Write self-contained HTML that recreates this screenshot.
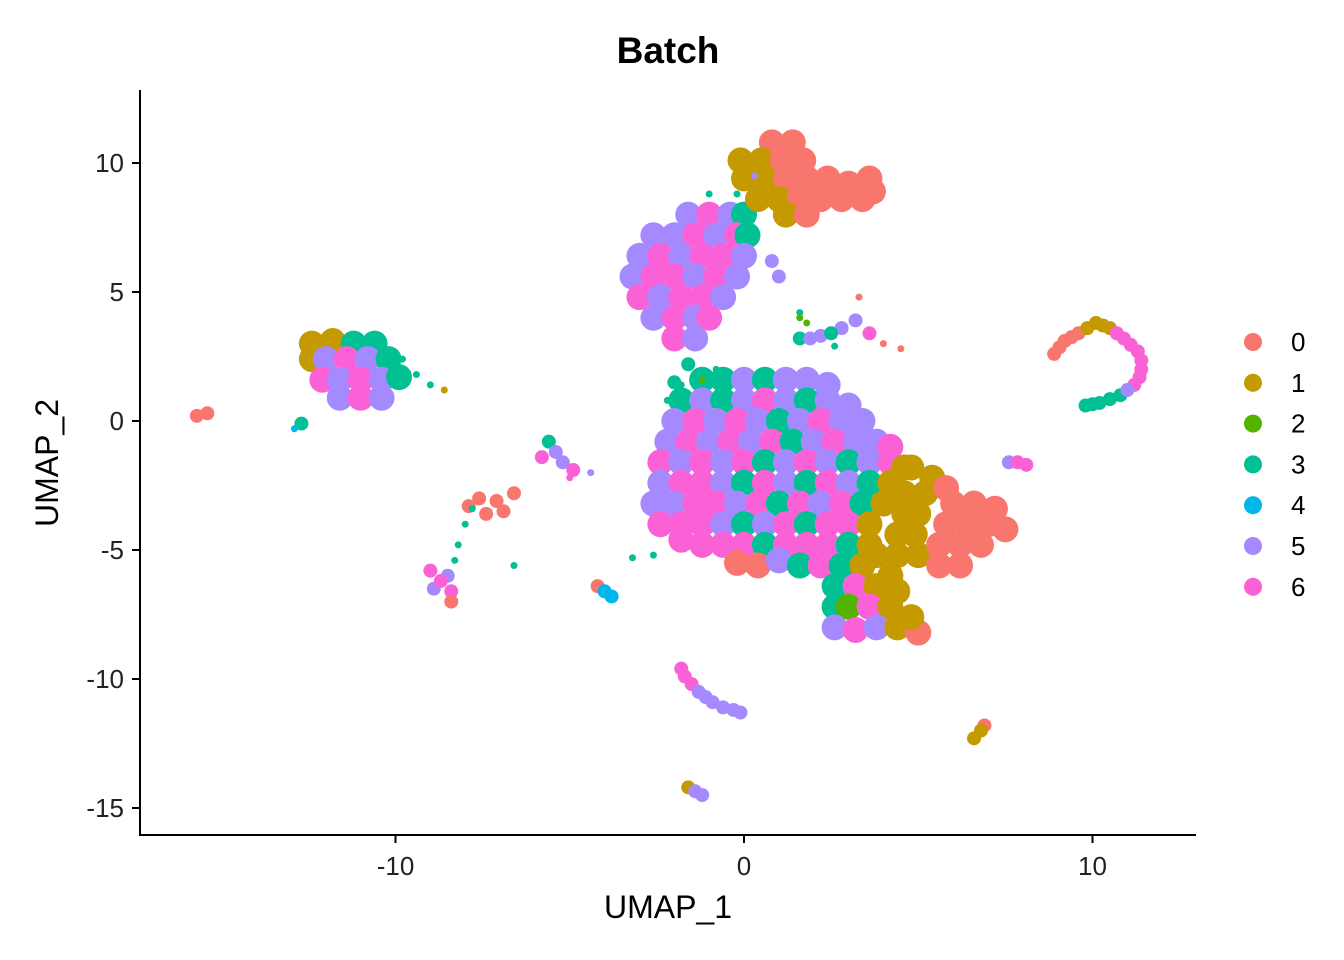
<!DOCTYPE html>
<html><head><meta charset="utf-8"><style>
html,body{margin:0;padding:0;background:#fff;}
svg{display:block;font-family:"Liberation Sans",Arial,sans-serif;}
</style></head><body>
<svg id="chart" width="1344" height="960" viewBox="0 0 1344 960" xmlns="http://www.w3.org/2000/svg">
<rect width="1344" height="960" fill="#fff"/>
<text x="668" y="63" text-anchor="middle" font-size="37" font-weight="bold">Batch</text>
<g id="points"></g>
<line x1="140" y1="90" x2="140" y2="836" stroke="#000" stroke-width="2"/>
<line x1="139" y1="835" x2="1196" y2="835" stroke="#000" stroke-width="2"/>
<g id="xticks"></g>
<g id="yticks"></g>
<text x="668" y="918" text-anchor="middle" font-size="32">UMAP_1</text>
<text transform="translate(58,463) rotate(-90)" text-anchor="middle" font-size="32">UMAP_2</text>
<g id="legend"></g>
</svg>
<script>
const batchLabels = ["0","1","2","3","4","5","6"];
const batchColors = ["#F8766D","#C49A00","#53B400","#00C094","#00B6EB","#A58AFF","#FB61D7"];
const xTicks = [-10,0,10];
const yTicks = [10,5,0,-5,-10,-15];
// dense cluster points: "x,y,batch"
const massPts = ("-1.2,1.6,3 -0.6,1.6,3 0,1.6,5 0.6,1.6,3 1.2,1.6,5 1.8,1.6,5 2.4,1.4,5 " +
"-1.8,0.8,3 -1.2,0.8,5 -0.6,0.8,3 0,0.8,5 0.6,0.8,6 1.2,0.8,5 1.8,0.8,3 2.4,0.8,5 3.0,0.6,5 " +
"-2.0,0,5 -1.4,0,6 -0.8,0,5 -0.2,0,6 0.4,0,5 1.0,0,3 1.6,0,5 2.2,0,6 2.8,0,5 3.4,0,5 " +
"-2.2,-0.8,5 -1.6,-0.8,6 -1.0,-0.8,5 -0.4,-0.8,6 0.2,-0.8,5 0.8,-0.8,6 1.4,-0.8,3 2.0,-0.8,5 2.6,-0.8,6 3.2,-0.8,5 3.8,-0.8,5 4.2,-1.0,6 " +
"-2.4,-1.6,6 -1.8,-1.6,5 -1.2,-1.6,6 -0.6,-1.6,5 0,-1.6,6 0.6,-1.6,3 1.2,-1.6,5 1.8,-1.6,6 2.4,-1.6,5 3.0,-1.6,3 3.6,-1.6,5 4.2,-1.6,6 4.6,-1.8,1 " +
"-2.4,-2.4,5 -1.8,-2.4,6 -1.2,-2.4,6 -0.6,-2.4,5 0,-2.4,3 0.6,-2.4,6 1.2,-2.4,5 1.8,-2.4,3 2.4,-2.4,6 3.0,-2.4,5 3.6,-2.4,3 4.2,-2.4,1 " +
"-2.6,-3.2,5 -2.0,-3.2,5 -1.4,-3.2,6 -0.8,-3.2,6 -0.2,-3.2,5 0.4,-3.2,6 1.0,-3.2,3 1.6,-3.2,6 2.2,-3.2,5 2.8,-3.2,6 3.4,-3.2,3 4.0,-3.2,1 " +
"-2.4,-4.0,6 -1.8,-4.0,6 -1.2,-4.0,6 -0.6,-4.0,5 0,-4.0,3 0.6,-4.0,5 1.2,-4.0,6 1.8,-4.0,3 2.4,-4.0,6 3.0,-4.0,6 3.6,-4.0,1 " +
"-1.8,-4.6,6 -1.2,-4.8,6 -0.6,-4.8,6 0,-4.8,6 0.6,-4.8,3 1.2,-4.8,6 1.8,-4.8,6 2.4,-4.8,6 3.0,-4.8,3 3.6,-4.8,1 " +
"-0.2,-5.5,0 0.4,-5.6,0 1.0,-5.4,5 1.6,-5.6,3 2.2,-5.6,6 2.8,-5.6,3 3.4,-5.6,1 " +
"4.8,-1.8,1 5.4,-2.2,1 4.6,-2.8,1 5.2,-2.8,1 4.6,-3.6,1 5.0,-3.6,1 4.4,-4.4,1 4.9,-4.4,1 3.8,-5.2,1 4.4,-5.2,1 5.0,-5.2,1 4.2,-6.0,1 " +
"6.0,-3.2,0 6.6,-3.2,0 7.2,-3.4,0 5.8,-4.0,0 6.4,-4.0,0 7.0,-4.0,0 7.5,-4.2,0 5.6,-4.8,0 6.2,-4.8,0 6.8,-4.8,0 5.6,-5.6,0 6.2,-5.6,0 5.8,-2.6,0 " +
"2.6,-6.4,3 3.2,-6.4,6 3.8,-6.4,1 4.4,-6.6,1 2.6,-7.2,3 3.0,-7.2,2 3.6,-7.2,6 4.2,-7.2,1 2.6,-8.0,5 3.2,-8.1,6 3.8,-8.0,5 4.4,-8.0,1 5.0,-8.2,0 4.8,-7.6,1 " +
"-1.6,8.0,5 -1.0,8.0,6 -0.4,8.0,5 0,8.0,3 " +
"-2.6,7.2,5 -2.0,7.2,5 -1.4,7.2,6 -0.8,7.2,5 -0.2,7.2,6 0.1,7.2,3 " +
"-3.0,6.4,5 -2.4,6.4,6 -1.8,6.4,5 -1.2,6.4,6 -0.6,6.4,6 0,6.4,5 " +
"-3.2,5.6,5 -2.6,5.6,6 -2.0,5.6,6 -1.4,5.6,5 -0.8,5.6,6 -0.2,5.6,5 " +
"-3.0,4.8,6 -2.4,4.8,5 -1.8,4.8,6 -1.2,4.8,6 -0.6,4.8,5 " +
"-2.6,4.0,5 -2.0,4.0,6 -1.4,4.0,5 -1.0,4.0,6 -2.0,3.2,6 -1.4,3.2,5 " +
"0.8,10.8,0 1.4,10.8,0 -0.1,10.1,1 0.5,10.1,1 1.1,10.1,0 1.7,10.1,0 " +
"0.0,9.4,1 0.6,9.4,1 1.2,9.4,0 1.8,9.4,0 2.4,9.4,0 3.0,9.2,0 3.6,9.4,0 " +
"0.4,8.6,1 1.0,8.6,1 1.6,8.6,0 2.2,8.6,0 2.8,8.6,0 3.4,8.6,0 3.7,8.9,0 1.2,8.0,1 1.8,8.0,0 " +
"-12.4,3.0,1 -11.8,3.1,1 -11.2,3.0,3 -10.6,3.0,3 " +
"-12.4,2.4,1 -12.0,2.4,5 -11.4,2.4,6 -10.8,2.4,5 -10.2,2.4,3 " +
"-12.1,1.6,6 -11.6,1.6,5 -11.0,1.6,6 -10.4,1.6,5 -9.9,1.7,3 " +
"-11.6,0.9,5 -11.0,0.9,6 -10.4,0.9,5").split(" ").map(s=>s.split(",").map(Number));
const smallPts = ("-15.7,0.2,0 -15.4,0.3,0 -12.7,-0.1,3 " +
"-7.6,-3.0,0 -7.1,-3.1,0 -6.6,-2.8,0 -7.4,-3.6,0 -7.9,-3.3,0 -6.9,-3.5,0 " +
"-5.8,-1.4,6 -5.2,-1.6,5 -5.6,-0.8,3 -4.9,-1.9,6 -5.4,-1.2,5 " +
"-9.0,-5.8,6 -8.5,-6.0,5 -8.9,-6.5,5 -8.4,-6.6,6 -8.4,-7.0,0 -8.7,-6.2,6 " +
"-1.8,-9.6,6 -1.5,-10.2,6 -1.1,-10.7,5 -0.6,-11.1,5 -0.1,-11.3,5 -1.7,-9.9,6 -1.3,-10.5,5 -0.9,-10.9,5 -0.3,-11.2,5 " +
"6.9,-11.8,0 6.6,-12.3,1 6.8,-12.0,1 -1.6,-14.2,1 -1.2,-14.5,5 -1.4,-14.35,5 -4.2,-6.4,0 -3.8,-6.8,4 -4.0,-6.6,4 " +
"7.6,-1.6,5 8.1,-1.7,6 7.85,-1.6,6 " +
"8.9,2.6,0 9.2,3.1,0 9.6,3.4,0 10.1,3.8,1 10.5,3.6,1 10.9,3.2,6 11.3,2.7,6 11.4,2.0,6 11.2,1.4,6 10.8,1.0,3 10.2,0.7,3 9.8,0.6,3 " +
"9.05,2.85,0 9.4,3.25,0 9.85,3.6,1 10.3,3.7,1 10.7,3.4,6 11.1,2.95,6 11.4,2.35,6 11.35,1.7,6 11.0,1.2,5 10.5,0.85,3 10.0,0.65,3 " +
"1.6,3.2,3 2.2,3.3,5 2.8,3.6,5 3.2,3.9,5 3.6,3.4,6 0.8,6.2,5 1.0,5.6,5 -2.0,-3.2,5 -2.0,1.5,3 -1.6,2.2,3 2.5,3.4,3 1.9,3.2,5").split(" ").map(s=>s.split(",").map(Number));
const sparsePts = ("-1.2,1.6,2 -1.8,1.4,3 -0.8,2.0,3 -2.2,0.8,3 -1.0,8.8,3 -0.2,8.8,3 0.3,9.5,5 " +
"-9.4,1.8,3 -9.0,1.4,3 -8.6,1.2,1 -9.8,2.4,3 -8.2,-4.8,3 -8.0,-4.0,3 -7.8,-3.4,3 " +
"-3.2,-5.3,3 -2.6,-5.2,3 4.0,3.0,0 4.5,2.8,0 1.8,3.8,2 2.6,2.9,3 1.6,4.2,3 3.3,4.8,0 1.6,4.0,2 " +
"-6.6,-5.6,3 -5.0,-2.2,6 -4.4,-2.0,5 -8.3,-5.4,3 -12.9,-0.3,4").split(" ").map(s=>s.split(",").map(Number));

const X0=744, XS=34.85, Y0=421, YS=25.8;
const xScale = v => X0 + v*XS;
const yScale = v => Y0 - v*YS;
const NS="http://www.w3.org/2000/svg";
const gp=document.getElementById('points');
function drawPts(arr, r, name){
  arr.forEach(p=>{
    const c=document.createElementNS(NS,'circle');
    c.setAttribute('cx',xScale(p[0]));c.setAttribute('cy',yScale(p[1]));
    c.setAttribute('r',r);c.setAttribute('fill',batchColors[p[2]]);
    
    
    gp.appendChild(c);
  });
}
drawPts(massPts,13,'cell-point');
drawPts(smallPts,7,'cell-point');
drawPts(sparsePts,3.5,'cell-point');

const gx=document.getElementById('xticks');
xTicks.forEach(t=>{
  const l=document.createElementNS(NS,'line');
  l.setAttribute('x1',xScale(t));l.setAttribute('x2',xScale(t));l.setAttribute('y1',835);l.setAttribute('y2',843);
  l.setAttribute('stroke','#000');l.setAttribute('stroke-width','2');
  
  
  gx.appendChild(l);
  const tx=document.createElementNS(NS,'text');
  tx.setAttribute('x',xScale(t));tx.setAttribute('y',875);tx.setAttribute('text-anchor','middle');
  tx.setAttribute('font-size','26');tx.setAttribute('fill','#222');tx.textContent=t;
  
  
  gx.appendChild(tx);
});
const gy=document.getElementById('yticks');
yTicks.forEach(t=>{
  const l=document.createElementNS(NS,'line');
  l.setAttribute('x1',132);l.setAttribute('x2',140);l.setAttribute('y1',yScale(t));l.setAttribute('y2',yScale(t));
  l.setAttribute('stroke','#000');l.setAttribute('stroke-width','2');
  
  
  gy.appendChild(l);
  const tx=document.createElementNS(NS,'text');
  tx.setAttribute('x',124);tx.setAttribute('y',yScale(t)+9);tx.setAttribute('text-anchor','end');
  tx.setAttribute('font-size','26');tx.setAttribute('fill','#222');tx.textContent=t;
  
  
  gy.appendChild(tx);
});
const gl=document.getElementById('legend');
batchLabels.forEach((lab,i)=>{
  const y=342+i*40.8;
  const c=document.createElementNS(NS,'circle');
  c.setAttribute('cx',1253);c.setAttribute('cy',y);c.setAttribute('r',9);c.setAttribute('fill',batchColors[i]);
  
  
  gl.appendChild(c);
  const tx=document.createElementNS(NS,'text');
  tx.setAttribute('x',1291);tx.setAttribute('y',y+9);tx.setAttribute('font-size','26');tx.textContent=lab;
  
  
  gl.appendChild(tx);
});
</script>
</body></html>
